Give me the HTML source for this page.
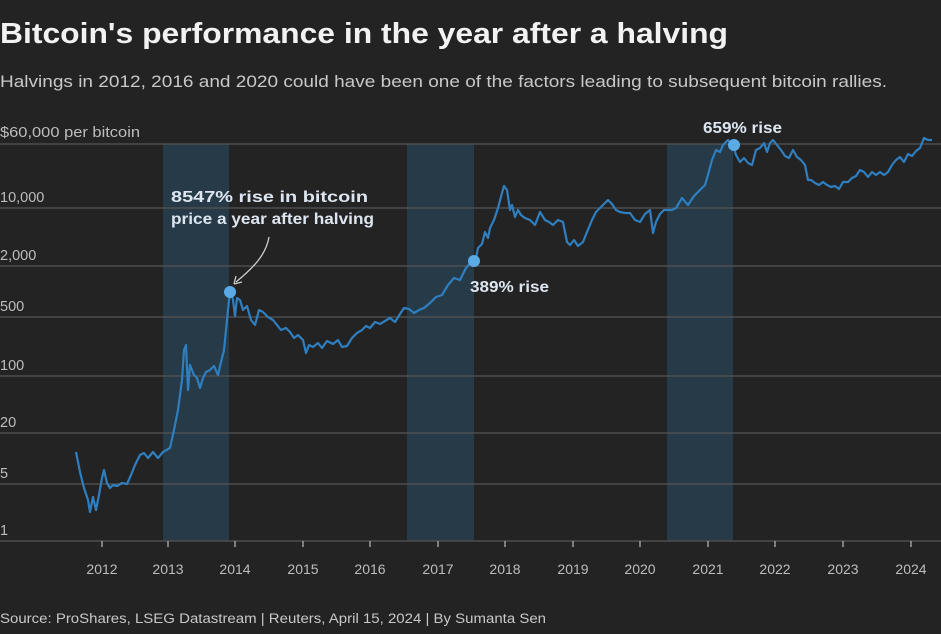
<!DOCTYPE html>
<html><head><meta charset="utf-8"><style>
body{margin:0;background:#232323;width:941px;height:629px;overflow:hidden;font-family:"Liberation Sans",sans-serif}
</style></head><body>
<svg width="941" height="629" xmlns="http://www.w3.org/2000/svg" font-family="Liberation Sans, sans-serif">
<rect width="941" height="629" fill="#232323"/>
<text x="0" y="43" font-size="29" font-weight="bold" fill="#f2f2f2" textLength="728" lengthAdjust="spacingAndGlyphs">Bitcoin's performance in the year after a halving</text>
<text x="0" y="87" font-size="17" fill="#c8c8c8" textLength="887" lengthAdjust="spacingAndGlyphs">Halvings in 2012, 2016 and 2020 could have been one of the factors leading to subsequent bitcoin rallies.</text>
<rect x="163" y="144" width="66" height="397" fill="#263a47"/>
<rect x="407" y="144" width="67" height="397" fill="#263a47"/>
<rect x="667" y="144" width="66" height="397" fill="#263a47"/>
<g stroke="#555" stroke-width="1.2">
<line x1="0" x2="941" y1="144" y2="144"/><line x1="0" x2="941" y1="208" y2="208"/>
<line x1="0" x2="941" y1="266" y2="266"/><line x1="0" x2="941" y1="317" y2="317"/>
<line x1="0" x2="941" y1="376" y2="376"/><line x1="0" x2="941" y1="433" y2="433"/>
<line x1="0" x2="941" y1="484" y2="484"/><line x1="0" x2="941" y1="541" y2="541"/>
</g>
<g font-size="14.5" fill="#bdbdbd">
<text x="0" y="137" textLength="140" lengthAdjust="spacingAndGlyphs">$60,000 per bitcoin</text>
<text x="0" y="202">10,000</text><text x="0" y="260">2,000</text><text x="0" y="311">500</text>
<text x="0" y="370">100</text><text x="0" y="427">20</text><text x="0" y="478">5</text><text x="0" y="535">1</text>
</g>
<g stroke="#bbb" stroke-width="1.2">
<line x1="102" x2="102" y1="541" y2="547"/><line x1="168" x2="168" y1="541" y2="547"/><line x1="235" x2="235" y1="541" y2="547"/><line x1="303" x2="303" y1="541" y2="547"/><line x1="370" x2="370" y1="541" y2="547"/><line x1="438" x2="438" y1="541" y2="547"/><line x1="505" x2="505" y1="541" y2="547"/><line x1="573" x2="573" y1="541" y2="547"/><line x1="640" x2="640" y1="541" y2="547"/><line x1="708" x2="708" y1="541" y2="547"/><line x1="775" x2="775" y1="541" y2="547"/><line x1="843" x2="843" y1="541" y2="547"/><line x1="911" x2="911" y1="541" y2="547"/>
</g>
<g font-size="14" fill="#bdbdbd" text-anchor="middle">
<text x="102" y="574">2012</text><text x="168" y="574">2013</text><text x="235" y="574">2014</text><text x="303" y="574">2015</text><text x="370" y="574">2016</text><text x="438" y="574">2017</text><text x="505" y="574">2018</text><text x="573" y="574">2019</text><text x="640" y="574">2020</text><text x="708" y="574">2021</text><text x="775" y="574">2022</text><text x="843" y="574">2023</text><text x="911" y="574">2024</text>
</g>
<polyline fill="none" stroke="#2f7fc0" stroke-width="2.2" stroke-linejoin="round" points="76,452 80,472 84,488 88,500 90,512 93,497 96,510 99,495 102,478 104,470 107,483 110,488 113,485 117,486 122,483 127,484 131,475 135,465 140,455 144,453 148,458 153,452 158,458 163,452 170,448 174,430 178,410 182,380 184,350 186,345 188,390 190,365 194,375 197,378 200,388 203,378 206,372 210,370 214,366 218,375 221,362 224,350 227,320 229,300 231,292 233,300 235,316 237,298 240,300 243,310 247,306 251,320 255,325 259,310 263,312 268,317 273,320 277,325 281,330 286,328 290,332 294,338 298,335 303,340 306,353 309,345 313,347 318,343 322,348 327,341 333,344 338,340 342,347 347,346 352,338 357,333 362,330 366,326 370,328 375,322 380,324 385,321 390,318 395,322 400,314 404,308 409,309 414,313 419,310 424,308 430,303 436,297 442,295 448,285 454,278 460,280 466,268 472,261 475,263 478,248 482,244 485,232 488,238 490,228 494,220 498,208 502,193 504,186 507,190 510,210 512,205 515,217 518,210 521,215 525,218 530,220 535,225 540,212 545,220 549,222 553,225 558,220 563,222 567,242 570,245 574,240 578,246 583,242 587,232 592,220 596,212 600,208 605,203 608,200 612,204 616,210 620,212 625,213 630,213 635,220 640,222 645,214 650,210 653,233 656,222 660,214 664,210 668,210 672,210 676,208 682,198 688,205 694,196 700,190 705,185 708,175 712,160 716,150 720,152 723,145 728,140 733,145 736,155 740,162 744,158 748,163 752,165 756,150 760,148 764,143 767,152 770,143 773,140 777,145 781,150 785,156 789,158 793,150 797,157 801,160 805,165 808,180 811,180 815,183 819,185 823,182 827,185 831,187 835,186 839,189 843,182 848,182 852,178 856,176 860,170 864,172 868,177 872,172 876,175 880,172 884,175 888,172 892,165 896,160 900,157 904,162 908,154 912,156 916,151 920,148 924,138 928,140 932,140"/>
<g fill="#5aaae6"><circle cx="230" cy="292" r="6"/><circle cx="474" cy="261" r="6"/><circle cx="734" cy="145" r="6"/></g>
<path d="M269,237 C266,255 253,268 236,282" fill="none" stroke="#ccc" stroke-width="1.3"/>
<path d="M234,284 l8,-2 M234,284 l2,-8" stroke="#ccc" stroke-width="1.3" fill="none"/>
<g font-size="15.5" font-weight="bold" fill="#dde6f0">
<text x="171" y="202" textLength="197" lengthAdjust="spacingAndGlyphs">8547% rise in bitcoin</text>
<text x="171" y="224" textLength="203" lengthAdjust="spacingAndGlyphs">price a year after halving</text>
<text x="470" y="292" textLength="79" lengthAdjust="spacingAndGlyphs">389% rise</text>
<text x="703" y="133" textLength="79" lengthAdjust="spacingAndGlyphs">659% rise</text>
</g>
<text x="0" y="623" font-size="13.5" fill="#c8c8c8" textLength="546" lengthAdjust="spacingAndGlyphs">Source: ProShares, LSEG Datastream | Reuters, April 15, 2024 | By Sumanta Sen</text>
</svg>
</body></html>
